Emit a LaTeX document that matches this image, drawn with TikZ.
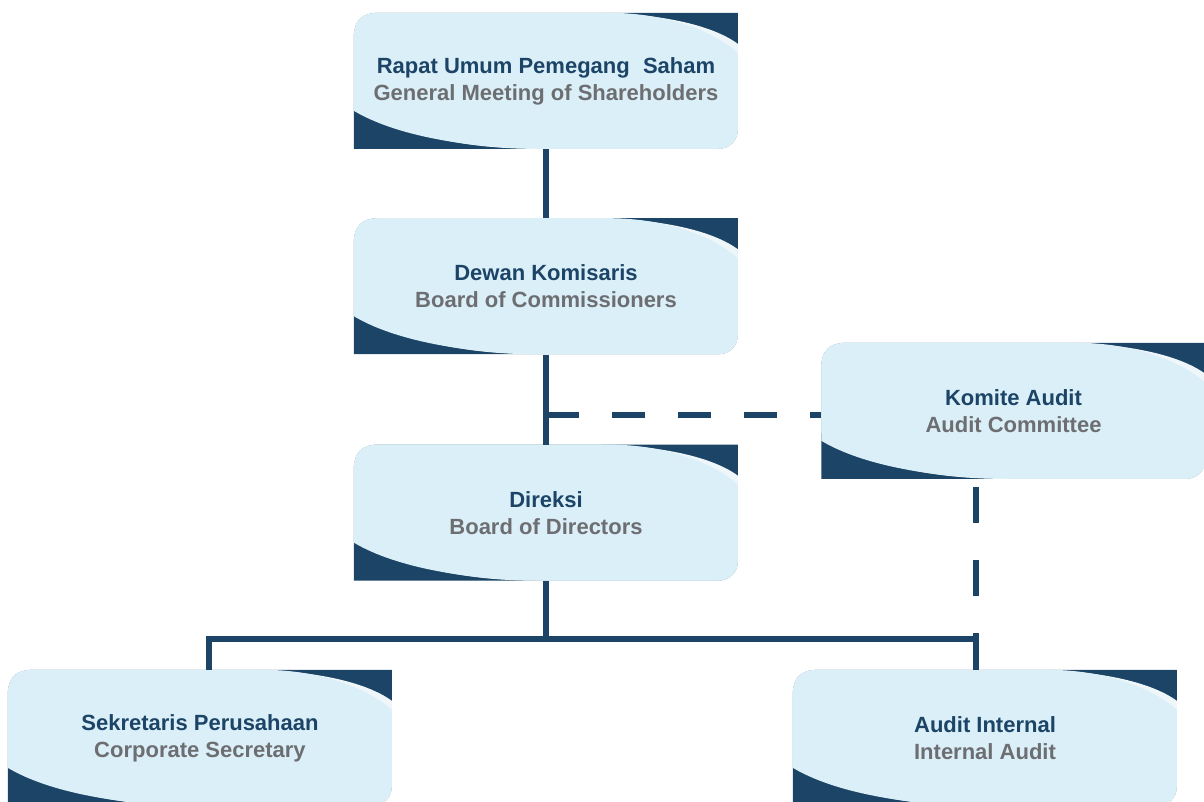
\documentclass[tikz,border=0pt]{standalone}
\usepackage{fontspec}
\newfontfamily\orgfont{Liberation Sans}
\usetikzlibrary{positioning,backgrounds}

\definecolor{orgnavy}{HTML}{1B4466}
\definecolor{orglight}{HTML}{DBEFF8}
\definecolor{orggray}{HTML}{6D6E71}
\definecolor{orgband}{HTML}{EEF6F9}

\newcommand{\orgtitle}[2]{\textcolor{orgnavy}{#1}\\\textcolor{orggray}{#2}}

\tikzset{
	orgbox/.style={minimum width=384pt, minimum height=136pt, inner sep=0pt, align=center,
		font=\orgfont\bfseries\fontsize{22}{27}\selectfont},
	pics/orgcard/.style={code={
		\begin{scope}
			\clip (0,0) rectangle (384,136);
			\fill[orgnavy] (0,25) .. controls (0,8) and (8,0) .. (25,0) -- (384,0) -- (384,116)
				.. controls (384,128) and (376,136) .. (364,136) -- (0,136) -- cycle;
			% white band
			\fill[orgband] (0,25) .. controls (0,8) and (8,0) .. (25,0)
				-- (235,0) .. controls (305,0) and (358,12) .. (384,31) -- (384,116)
				.. controls (384,128) and (376,136) .. (364,136) -- (175,136)
				.. controls (100,135) and (35,118) .. (0,90) -- cycle;
			\fill[orglight] (0,25) .. controls (0,8) and (8,0) .. (25,0)
				-- (255,0) .. controls (315,0) and (362,20) .. (384,40) -- (384,116)
				.. controls (384,128) and (376,136) .. (364,136) -- (195,136)
				.. controls (115,136) and (42,123) .. (0,98) -- cycle;
		\end{scope}
	}},
	link/.style={orgnavy, line width=5.5pt},
	dashlink/.style={link, dash pattern=on 33pt off 33pt},
}

\begin{document}
\begin{tikzpicture}[x=1pt, y=-1pt]
	\useasboundingbox (0,0) rectangle (1204,801);

	% boxes
	\node [orgbox] (rups) at (546,81) {\orgtitle{Rapat Umum Pemegang\hspace{0.6em}Saham}{General Meeting of Shareholders}};
	\node [orgbox, below=69pt of rups] (komisaris) {\orgtitle{Dewan Komisaris}{Board of Commissioners}};
	\node [orgbox, below=90pt of komisaris] (direksi) {\orgtitle{Direksi}{Board of Directors}};
	\node [orgbox] (komite) at (1013.5,411) {\orgtitle{Komite Audit}{Audit Committee}};
	\node [orgbox] (sekretaris) at (200,738) {\orgtitle{Sekretaris Perusahaan}{Corporate Secretary}};
	\node [orgbox] (auditint) at (985,738) {\orgtitle{Audit Internal}{Internal Audit}};

	% card backgrounds
	\begin{scope}[on background layer]
		\clip (0,0) rectangle (1204,801);
		\foreach \n in {rups,komisaris,direksi,komite,sekretaris,auditint}
			\pic at (\n.north west) {orgcard};
	\end{scope}

	\coordinate (bus) at (546,639);
	\coordinate (busL) at (209,639);
	\coordinate (busR) at (976,639);
	\coordinate (busTop) at (976,633);
	\coordinate (auditJoin) at (546,415);

	% solid lines
	\draw [link] (rups) -- (komisaris);
	\draw [link] (komisaris) -- (direksi);
	\draw [link] (direksi) -- (bus);
	\draw [link] (sekretaris.north -| busL) -- (busL) -- (busR) -- (auditint.north -| busR);
	\draw [link] (busR) -- (busTop);

	% dashed lines to the committee
	\draw [dashlink] (auditJoin) -- (komite.west |- auditJoin);
	\draw [link, dash pattern=on 36pt off 37pt, dash phase=65pt] (komite.south -| busR) -- (busTop);
\end{tikzpicture}
\end{document}
